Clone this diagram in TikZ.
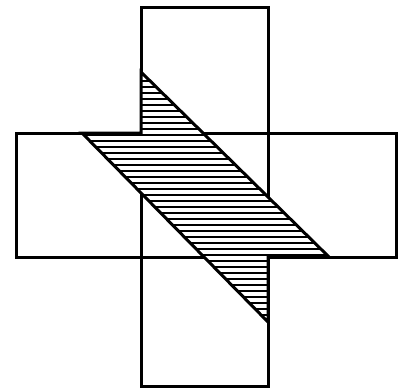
\documentclass[tikz,border=0pt]{standalone}
\begin{document}
\begin{tikzpicture}[x=1pt,y=-1pt,
  outline/.style={line width=3pt, line join=miter, line cap=rect},
  hatchline/.style={line width=2.9pt}]
\useasboundingbox (0,0) rectangle (408,389);
\coordinate (VTL) at (141,7);
\coordinate (VBR) at (268,386);
\coordinate (HTL) at (16,133);
\coordinate (HBR) at (396,257);
\coordinate (U1) at (141,72);
\coordinate (U2) at (329,257);
\coordinate (L1) at (82,133);
\coordinate (L2) at (268,322);
\coordinate (C1) at (268,257);
\coordinate (C2) at (141,133);
\draw[outline] (VTL) rectangle (VBR);
\draw[outline] (HTL) rectangle (HBR);
\fill[white] (U1) -- (U2) -- (C1) -- (L2) -- (L1) -- (C2) -- cycle;
\begin{scope}
\clip (U1) -- (U2) -- (C1) -- (L2) -- (L1) -- (C2) -- cycle;
\foreach \yy in {75,81,...,330} \draw[hatchline] (60,\yy) -- (350,\yy);
\end{scope}
\draw[outline] (U1) -- (U2) -- (C1) -- (L2) -- (L1) -- (C2) -- cycle;
\end{tikzpicture}
\end{document}
